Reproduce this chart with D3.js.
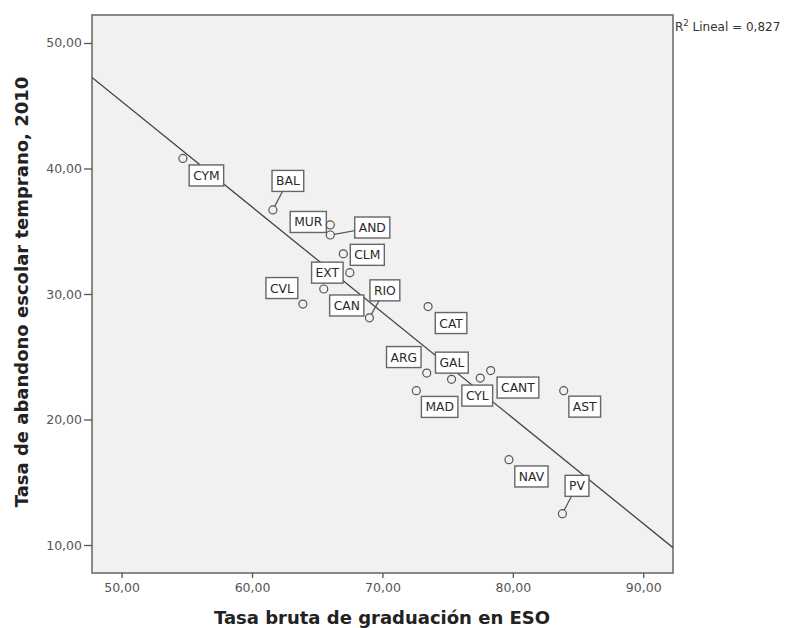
<!DOCTYPE html>
<html>
<head>
<meta charset="utf-8">
<script src="https://cdn.jsdelivr.net/npm/d3@7"></script>
<style>
  html, body { margin: 0; padding: 0; background: #fff; }
  svg { display: block; }
  text { font-family: "DejaVu Sans", sans-serif; }
</style>
</head>
<body>
<svg id="chart" width="794" height="628"></svg>
<script>
// Comunidades autónomas
const regions = ["CYM", "BAL", "MUR", "AND", "CLM", "EXT", "CAN", "CVL", "RIO",
                 "CAT", "ARG", "GAL", "CYL", "CANT", "MAD", "AST", "NAV", "PV"];
// Tasa bruta de graduación en ESO
const graduation = [54.7, 61.6, 66.0, 66.0, 67.0, 67.5, 65.5, 63.9, 69.0,
                    73.5, 73.4, 75.3, 77.5, 78.3, 72.6, 83.9, 79.7, 83.8];
// Tasa de abandono escolar temprano, 2010
const dropout = [40.8, 36.7, 35.5, 34.7, 33.2, 31.7, 30.4, 29.2, 28.1,
                 29.0, 23.7, 23.2, 23.3, 23.9, 22.3, 22.3, 16.8, 12.5];
const xTicks = [50, 60, 70, 80, 90];
const yTicks = [10, 20, 30, 40, 50];
const r2Text = "0,827";

// Label placement relative to each point (px)
const labelOffset = {
  CYM: [23.5, 17], BAL: [15, -29], MUR: [-22, -3], AND: [42, -7.5],
  CLM: [24, 1], EXT: [-22.5, 0], CAN: [23, 16.5], CVL: [-21, -16],
  RIO: [15.5, -27.5], CAT: [23, 16.5], ARG: [-23, -16], GAL: [0.3, -16.7],
  CYL: [-3, 17.5], CANT: [27.3, 17], MAD: [23.3, 16.3], AST: [21, 16],
  NAV: [22.5, 16.8], PV: [14.6, -27.8]
};

const svg = d3.select("#chart");
const plot = { left: 92, top: 15, right: 673, bottom: 573 };

const x = d3.scaleLinear().domain([47.73, 92.28]).range([plot.left, plot.right]);
const y = d3.scaleLinear().domain([7.77, 52.23]).range([plot.bottom, plot.top]);

const esLocale = d3.formatLocale({ decimal: ",", thousands: ".", grouping: [3], currency: ["", " €"] });
const fmt = esLocale.format(".2f");

// Plot background and frame
svg.append("rect")
  .attr("x", plot.left).attr("y", plot.top)
  .attr("width", plot.right - plot.left).attr("height", plot.bottom - plot.top)
  .attr("fill", "#f1f1f1").attr("stroke", "#6e6e6e").attr("stroke-width", 1.6);

// Axes
const xAxis = svg.append("g")
  .attr("transform", `translate(0,${plot.bottom})`)
  .call(d3.axisBottom(x).tickValues(xTicks).tickFormat(fmt).tickSize(5).tickPadding(5));
const yAxis = svg.append("g")
  .attr("transform", `translate(${plot.left},0)`)
  .call(d3.axisLeft(y).tickValues(yTicks).tickFormat(fmt).tickSize(8).tickPadding(2));
[xAxis, yAxis].forEach(g => {
  g.select(".domain").remove();
  g.selectAll(".tick line").attr("stroke", "#555").attr("stroke-width", 1.3);
  g.selectAll(".tick text").attr("fill", "#555").style("font-size", "12.5px")
    .style("font-family", "'DejaVu Sans', sans-serif");
});

// Least-squares fit line
const n = graduation.length;
const mx = d3.mean(graduation), my = d3.mean(dropout);
let sxy = 0, sxx = 0;
for (let i = 0; i < n; i++) {
  sxy += (graduation[i] - mx) * (dropout[i] - my);
  sxx += (graduation[i] - mx) ** 2;
}
const slope = sxy / sxx, intercept = my - slope * mx;
const [x0, x1] = x.domain();
svg.append("defs").append("clipPath").attr("id", "plotClip")
  .append("rect").attr("x", plot.left).attr("y", plot.top)
  .attr("width", plot.right - plot.left).attr("height", plot.bottom - plot.top);
svg.append("line")
  .attr("clip-path", "url(#plotClip)")
  .attr("x1", x(x0)).attr("y1", y(intercept + slope * x0))
  .attr("x2", x(x1)).attr("y2", y(intercept + slope * x1))
  .attr("stroke", "#444").attr("stroke-width", 1.3);

// Points
const data = regions.map((code, i) => ({ code, gx: graduation[i], dy: dropout[i] }));
const R = 4;
const marks = svg.append("g");

// Labels with boxes (and leader lines when detached)
const labels = svg.append("g");
data.forEach(d => {
  const px = x(d.gx), py = y(d.dy);
  const [ox, oy] = labelOffset[d.code];
  const cx = px + ox, cy = py + oy;
  const g = labels.append("g");
  const t = g.append("text")
    .attr("x", cx).attr("y", cy + 4.5)
    .attr("text-anchor", "middle")
    .attr("fill", "#2a2a2a")
    .style("font-size", "12.3px")
    .text(d.code);
  const w = t.node().getComputedTextLength() + 8;
  const h = 21;
  const bx = cx - w / 2, by = cy - h / 2;
  // gap between point and box
  const nx = Math.max(bx, Math.min(px, bx + w));
  const ny = Math.max(by, Math.min(py, by + h));
  const dist = Math.hypot(px - nx, py - ny);
  if (dist - R > 6) {
    // leader aimed at the box centre; the box covers its far end
    const ang = Math.atan2(cy - py, cx - px);
    labels.insert("line", ":first-child")
      .attr("x1", px + R * Math.cos(ang)).attr("y1", py + R * Math.sin(ang))
      .attr("x2", cx).attr("y2", cy)
      .attr("stroke", "#555").attr("stroke-width", 1.2);
  }
  g.insert("rect", "text")
    .attr("x", bx).attr("y", by).attr("width", w).attr("height", h)
    .attr("fill", "#fff").attr("stroke", "#666").attr("stroke-width", 1.4);
});

marks.selectAll("circle").data(data).join("circle")
  .attr("cx", d => x(d.gx)).attr("cy", d => y(d.dy)).attr("r", R)
  .attr("fill", "none").attr("stroke", "#555").attr("stroke-width", 1.2);
svg.node().appendChild(marks.node());

// Fit annotation
const r2 = svg.append("text").attr("x", plot.right + 2).attr("y", 31)
  .attr("fill", "#333").style("font-size", "12px");
r2.append("tspan").text("R");
r2.append("tspan").attr("dy", -5).style("font-size", "8.5px").text("2");
r2.append("tspan").attr("dy", 5).text(" Lineal = " + r2Text);

// Axis titles
svg.append("text")
  .attr("x", 382).attr("y", 624)
  .attr("text-anchor", "middle").attr("fill", "#222")
  .style("font-size", "18px").style("font-weight", "bold")
  .text("Tasa bruta de graduación en ESO");
svg.append("text")
  .attr("transform", `translate(28,292) rotate(-90)`)
  .attr("text-anchor", "middle").attr("fill", "#222")
  .style("font-size", "18px").style("font-weight", "bold")
  .text("Tasa de abandono escolar temprano, 2010");
</script>
</body>
</html>
